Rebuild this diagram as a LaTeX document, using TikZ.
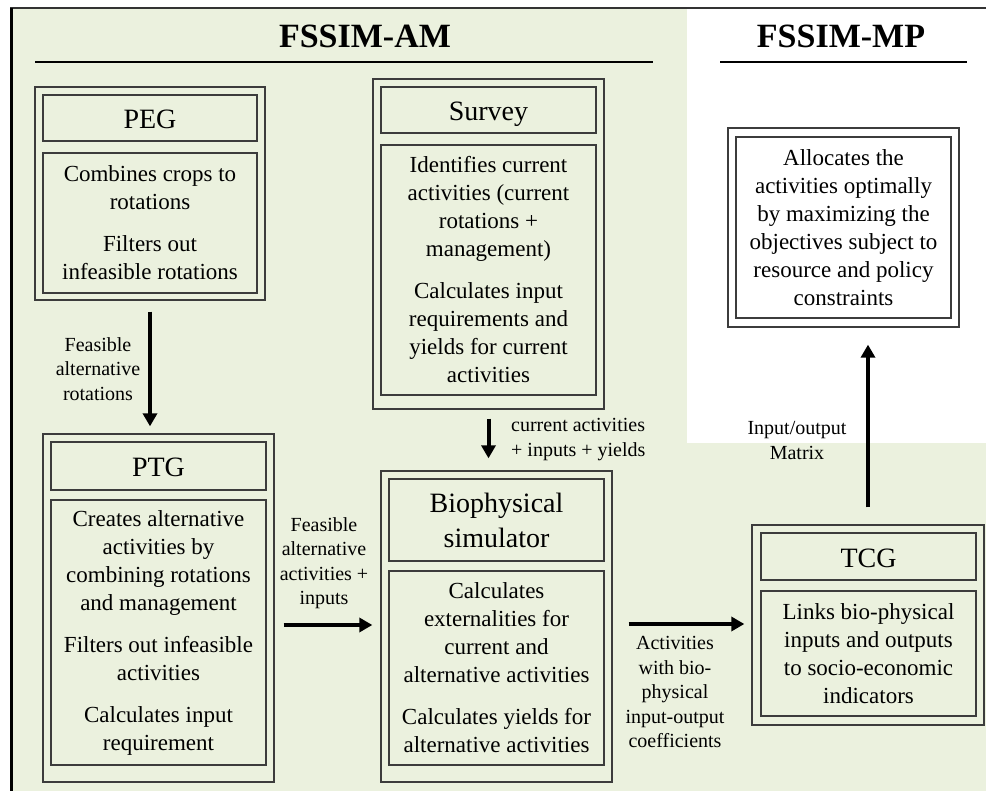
\documentclass[tikz,border=0pt]{standalone}
\usepackage{fontspec}
\setmainfont{Liberation Serif}
\usetikzlibrary{arrows.meta,calc}
\definecolor{bgg}{HTML}{EBF1DE}
\definecolor{boxc}{HTML}{3C3C3C}
\begin{document}
\begin{tikzpicture}[x=1pt,y=-1pt,
  frame/.style={draw=boxc,line width=1.3pt,inner sep=0pt,align=center},
  txt/.style={font=\fontsize{23}{28}\selectfont},
  ttl/.style={font=\fontsize{28}{35}\selectfont},
  ttlone/.style={ttl,text height=27pt,text depth=6pt},
  lbl/.style={font=\fontsize{20}{24.5}\selectfont,align=center,inner sep=0pt},
  head/.style={font=\fontsize{34}{40}\selectfont\bfseries,inner sep=0pt,anchor=base},
  arr/.style={line width=4pt,-{Triangle[length=13pt,width=14pt]}}]
\useasboundingbox (0,0) rectangle (986,791);
% background
\fill[bgg] (10,8) rectangle (986,791);
\fill[white] (687,9) rectangle (986,443);
\draw[line width=1.5pt,black!80] (10,8) -- (986,8);
\draw[line width=3pt] (11,8) -- (11,791);
% headings
\node[head] (am) at (365,48) {FSSIM-AM};
\node[head] (mp) at (841,48) {FSSIM-MP};
\draw[line width=1.3pt] (35,62) -- (653,62);
\draw[line width=1.3pt] (720,62) -- (967,62);
% PEG
\node[frame,minimum width=230pt,minimum height=213pt] (peg) at (150,193.5) {};
\node[frame,ttlone,minimum width=214pt,minimum height=46pt] (pegt) at (150,118) {PEG};
\node[frame,txt,minimum width=214pt,minimum height=140pt] (pegc) at (150,223)
  {Combines crops to\\rotations\\[14pt]Filters out\\infeasible rotations};
% Survey
\node[frame,minimum width=231pt,minimum height=330pt] (sur) at (488.5,244) {};
\node[frame,ttlone,minimum width=215pt,minimum height=46pt] (surt) at (488.5,110) {Survey};
\node[frame,txt,minimum width=215pt,minimum height=250pt] (surc) at (488.5,270)
  {Identifies current\\activities (current\\rotations +\\management)\\[14pt]Calculates input\\requirements and\\yields for current\\activities};
% PTG
\node[frame,minimum width=231pt,minimum height=348pt] (ptg) at (158.5,608) {};
\node[frame,ttlone,minimum width=215pt,minimum height=48pt] (ptgt) at (158.5,466) {PTG};
\node[frame,txt,minimum width=215pt,minimum height=265pt] (ptgc) at (158.5,632.5)
  {Creates alternative\\activities by\\combining rotations\\and management\\[14pt]Filters out infeasible\\activities\\[14pt]Calculates input\\requirement};
% Biophysical simulator
\node[frame,minimum width=231pt,minimum height=311pt] (bio) at (496.5,626.5) {};
\node[frame,ttl,minimum width=215pt,minimum height=82pt] (biot) at (496.5,520) {Biophysical\\simulator};
\node[frame,txt,minimum width=215pt,minimum height=194pt] (bioc) at (496.5,668)
  {Calculates\\externalities for\\current and\\alternative activities\\[14pt]Calculates yields for\\alternative activities};
% TCG
\node[frame,minimum width=232pt,minimum height=200pt] (tcg) at (868,625) {};
\node[frame,ttlone,minimum width=215pt,minimum height=47pt] (tcgt) at (868.5,556.5) {TCG};
\node[frame,txt,minimum width=215pt,minimum height=125pt] (tcgc) at (868.5,653.5)
  {Links bio-physical\\inputs and outputs\\to socio-economic\\indicators};
% MP box
\node[frame,minimum width=231pt,minimum height=199pt] (mpo) at (843.5,227.5) {};
\node[frame,txt,minimum width=215pt,minimum height=181pt] (mpc) at (843.5,227.5)
  {Allocates the\\activities optimally\\by maximizing the\\objectives subject to\\resource and policy\\constraints};
% arrows
\draw[arr] ($(peg.south)+(0,11)$) -- ($(peg.south |- ptg.north)+(0,-7)$);
\draw[arr] ($(sur.south)+(0,9)$) -- ($(sur.south |- bio.north)+(0,-12)$);
\draw[arr] ($(ptg.east)+(9,17)$) -- ($(bio.west)+(-8,-1.5)$);
\draw[arr] ($(bio.east)+(16,-2.5)$) -- ($(tcg.west)+(-7,-1)$);
\draw[arr] ($(tcg.north)+(0,-17)$) -- ($(tcg.north |- mpo.south)+(0,17)$);
% labels
\node[lbl] (l1) at (98,369) {Feasible\\alternative\\rotations};
\node[lbl,anchor=west,align=left] (l2) at (511,439.5) {current activities\\+ inputs + yields};
\node[lbl] (l3) at (324,563) {Feasible\\alternative\\activities +\\inputs};
\node[lbl] (l4) at (675,692) {Activities\\with bio-\\physical\\input-output\\coefficients};
\node[lbl] (l5) at (797,440.5) {Input/output\\Matrix};
\end{tikzpicture}
\end{document}
